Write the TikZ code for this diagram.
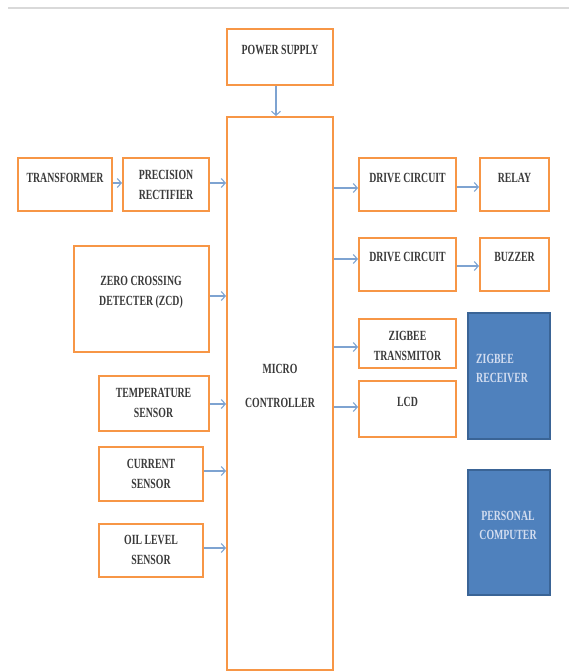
\documentclass[tikz,border=0pt]{standalone}
\usepackage{fontspec}
\setmainfont{Liberation Serif}[FakeStretch=0.7]
\usetikzlibrary{arrows.meta}
\definecolor{boxorange}{HTML}{F79646}
\definecolor{arrblue}{HTML}{7EA3D1}
\definecolor{pcblue}{HTML}{4F81BD}
\definecolor{pcedge}{HTML}{3A6496}
\definecolor{txtgray}{HTML}{3A3A3A}
\definecolor{pctext}{HTML}{D3DDF0}
\definecolor{topline}{HTML}{D9D9D9}
\begin{document}
\begin{tikzpicture}[x=1pt,y=-1pt,
  obox/.style={draw=boxorange, line width=2pt, fill=white, inner sep=0pt},
  bbox/.style={draw=pcedge, line width=1.5pt, fill=pcblue, inner sep=0pt},
  lbl/.style={text=txtgray, font=\fontsize{14}{20}\selectfont\bfseries, align=center, inner sep=0pt},
  blbl/.style={text=pctext, font=\fontsize{14}{19}\selectfont\bfseries, inner sep=0pt},
  arr/.style={draw=arrblue, line width=1.1pt, -{Straight Barb[length=4pt,width=9pt]}}]
\useasboundingbox (0,0) rectangle (569,671);
\draw[topline, line width=1.5pt] (8,8) -- (569,8);
% boxes
\node[obox, minimum width=106pt, minimum height=56pt] (ps) at (280,57) {};
\node[obox, minimum width=106pt, minimum height=553pt] (mc) at (280,393.5) {};
\node[obox, minimum width=94pt, minimum height=53pt] (trans) at (65,184.5) {};
\node[obox, minimum width=86pt, minimum height=53pt] (rect) at (166,184.5) {};
\node[obox, minimum width=135pt, minimum height=106pt] (zcd) at (141.5,299) {};
\node[obox, minimum width=110pt, minimum height=55pt] (temp) at (154,403.5) {};
\node[obox, minimum width=104pt, minimum height=54pt] (curr) at (151,474) {};
\node[obox, minimum width=104pt, minimum height=53pt] (oil) at (151,550.5) {};
\node[obox, minimum width=97pt, minimum height=53pt] (dc1) at (407.5,184.5) {};
\node[obox, minimum width=69pt, minimum height=53pt] (relay) at (514.5,184.5) {};
\node[obox, minimum width=97pt, minimum height=53pt] (dc2) at (407.5,264.5) {};
\node[obox, minimum width=69pt, minimum height=53pt] (buzz) at (514.5,264.5) {};
\node[obox, minimum width=97pt, minimum height=49pt] (zt) at (407.5,343.5) {};
\node[obox, minimum width=97pt, minimum height=56pt] (lcd) at (407.5,409) {};
\node[bbox, minimum width=82pt, minimum height=126pt] (zr) at (509,376) {};
\node[bbox, minimum width=82pt, minimum height=125pt] (pc) at (509,532.5) {};
% texts
\node[lbl] (tps) at (280,50) {POWER SUPPLY};
\node[lbl] (tmc) at (280,386) {MICRO\\[14pt]CONTROLLER};
\node[lbl] (ttrans) at (65,178) {TRANSFORMER};
\node[lbl] (trect) at (166,185) {PRECISION\\RECTIFIER};
\node[lbl] (tzcd) at (141,292) {ZERO CROSSING\\DETECTER (ZCD)};
\node[lbl] (ttemp) at (153.5,402.5) {TEMPERATURE\\SENSOR};
\node[lbl] (tcurr) at (151,473.5) {CURRENT\\SENSOR};
\node[lbl] (toil) at (151,550) {OIL LEVEL\\SENSOR};
\node[lbl] (tdc1) at (407.5,178) {DRIVE CIRCUIT};
\node[lbl] (trelay) at (514.5,178) {RELAY};
\node[lbl] (tdc2) at (407.5,257) {DRIVE CIRCUIT};
\node[lbl] (tbuzz) at (514.5,257) {BUZZER};
\node[lbl] (tzt) at (407.5,345.5) {ZIGBEE\\TRANSMITOR};
\node[lbl] (tlcd) at (407.5,402) {LCD};
\node[blbl, align=left, anchor=west] (tzr) at (476,368.5) {ZIGBEE\\RECEIVER};
\node[blbl, align=center] (tpc) at (508,525.5) {PERSONAL\\COMPUTER};
% connectors
\draw[arr] ([xshift=-4pt]ps.south) -- ([xshift=-4pt]mc.north);
\draw[arr] (trans.east |- 0,183) -- (rect.west |- 0,183);
\draw[arr] (rect.east |- 0,183) -- (mc.west |- 0,183);
\draw[arr] (zcd.east |- 0,296) -- (mc.west |- 0,296);
\draw[arr] (temp.east |- 0,404) -- (mc.west |- 0,404);
\draw[arr] (curr.east |- 0,471) -- (mc.west |- 0,471);
\draw[arr] (oil.east |- 0,548) -- (mc.west |- 0,548);
\draw[arr] (mc.east |- 0,188) -- (dc1.west |- 0,188);
\draw[arr] (dc1.east |- 0,187) -- (relay.west |- 0,187);
\draw[arr] (mc.east |- 0,259) -- (dc2.west |- 0,259);
\draw[arr] (dc2.east |- 0,266) -- (buzz.west |- 0,266);
\draw[arr] (mc.east |- 0,347) -- (zt.west |- 0,347);
\draw[arr] (mc.east |- 0,407) -- (lcd.west |- 0,407);
\end{tikzpicture}
\end{document}
